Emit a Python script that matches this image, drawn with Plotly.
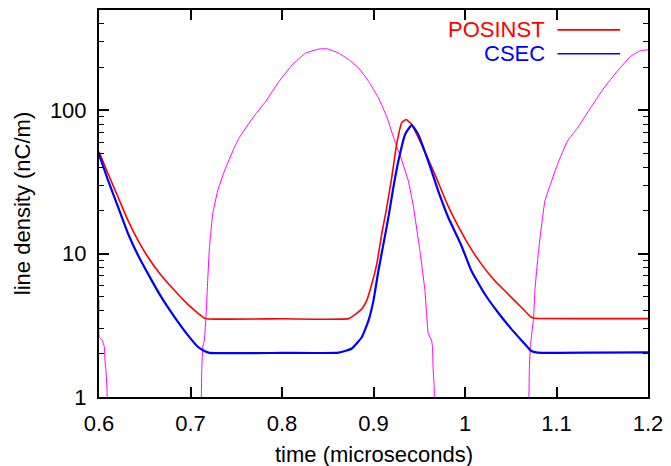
import plotly.graph_objects as go

# ---- data ----
posinst_t = [0.6, 0.6101, 0.621, 0.6319, 0.6428, 0.6536, 0.6681, 0.6826, 0.6971, 0.708,
             0.7152, 0.7188, 0.80, 0.8728, 0.8801, 0.8873, 0.8927, 0.8982, 0.9036, 0.909,
             0.9145, 0.9199, 0.9253, 0.9308, 0.9355, 0.9417, 0.9525, 0.9671, 0.9815, 0.9924,
             1.0033, 1.0177, 1.0323, 1.0467, 1.0612, 1.0721, 1.0764, 1.14, 1.2]
posinst_v = [51.4, 35.8, 24.6, 16.9, 12.3, 9.43, 7.03, 5.53, 4.42, 3.85,
             3.55, 3.50, 3.51, 3.52, 3.77, 4.13, 4.72, 6.16, 8.48, 13.7,
             21.0, 33.9, 57.8, 81.6, 86.1, 79.6, 57.8, 35.7, 21.5, 15.6,
             11.7, 8.48, 6.49, 5.25, 4.24, 3.61, 3.54, 3.52, 3.52]

csec_t = [0.6, 0.6101, 0.621, 0.6319, 0.6428, 0.6536, 0.6681, 0.6826, 0.6971, 0.708,
          0.7152, 0.7207, 0.80, 0.862, 0.8764, 0.8873, 0.8946, 0.9, 0.9054, 0.9109,
          0.9163, 0.9217, 0.9272, 0.9345, 0.9417, 0.9489, 0.9598, 0.9707, 0.9815, 0.996,
          1.0068, 1.0214, 1.0359, 1.0503, 1.0649, 1.0721, 1.0793, 1.14, 1.2]
csec_v = [49.3, 32.1, 21.0, 13.7, 9.69, 7.22, 4.97, 3.61, 2.70, 2.24,
          2.09, 2.03, 2.03, 2.04, 2.18, 2.62, 3.42, 4.72, 7.62, 11.7,
          17.9, 28.9, 44.2, 67.8, 78.7, 67.8, 44.2, 27.4, 18.0, 11.4,
          7.62, 5.25, 3.9, 3.0, 2.36, 2.10, 2.04, 2.04, 2.05]

bunch_t = [0.6, 0.6001, 0.6036, 0.6058, 0.6065, 0.6076, 0.6088, 0.6095, None,
           0.7112, 0.7123, 0.7134, 0.7152, 0.7171, 0.7188, 0.7207, 0.7243, 0.7297, 0.737,
           0.7478, 0.7532, 0.768, 0.7823, 0.7968, 0.8113, 0.8257, 0.8402, 0.8493, 0.862,
           0.873, 0.8837, 0.8946, 0.9054, 0.9145, 0.9236, 0.9308, 0.9381, 0.9435, 0.9507,
           0.9562, 0.9598, 0.9634, 0.9645, 0.9652, 0.9663, 0.9672, None,
           1.0693, 1.0703, 1.0714, 1.0728, 1.075, 1.0764, 1.0786, 1.0812, 1.0848, 1.0873,
           1.0938, 1.1011, 1.112, 1.1228, 1.1373, 1.1518, 1.1663, 1.1808, 1.1917, 1.2]
bunch_v = [4.72, 2.62, 2.49, 2.24, 1.81, 1.54, 1.1, 0.5, None,
           0.5, 1.54, 2.24, 2.49, 3.81, 6.49, 11.0, 18.9, 27.4, 37.6,
           54.7, 64.2, 88.4, 115.5, 159.0, 207.6, 250.0, 267.0, 268.0, 250.0,
           225.0, 197.0, 159.0, 122.0, 90.0, 60.0, 45.0, 32.0, 21.5, 10.5,
           5.53, 2.77, 2.49, 2.24, 1.54, 1.2, 0.5, None,
           0.5, 1.54, 2.24, 2.7, 3.61, 5.53, 8.03, 11.7, 17.9, 23.3,
           31.0, 42.0, 61.0, 75.0, 104.0, 143.0, 186.6, 237.0, 260.0, 264.0]

x_ticks = [0.6, 0.7, 0.8, 0.9, 1.0, 1.1, 1.2]
x_tick_text = ["0.6", "0.7", "0.8", "0.9", "1", "1.1", "1.2"]
y_ticks = [1, 10, 100]
y_tick_text = ["1", "10", "100"]
y_minor = [2, 3, 4, 5, 6, 7, 8, 9, 20, 30, 40, 50, 60, 70, 80, 90, 200, 300, 400, 500]

FONT = "Liberation Sans, Arial, sans-serif"
FS = 22

fig = go.Figure()
fig.add_trace(go.Scatter(x=bunch_t, y=bunch_v, mode="lines", connectgaps=False,
                         line=dict(color="#ff00ff", width=1, shape="spline", smoothing=0.3),
                         showlegend=False))
fig.add_trace(go.Scatter(x=posinst_t, y=posinst_v, mode="lines", name="POSINST",
                         line=dict(color="#ff0000", width=1.6, shape="spline", smoothing=0.4),
                         showlegend=False))
fig.add_trace(go.Scatter(x=csec_t, y=csec_v, mode="lines", name="CSEC",
                         line=dict(color="#0000ff", width=2.2, shape="spline", smoothing=0.4),
                         showlegend=False))

axis_common = dict(showline=True, linecolor="black", linewidth=2, mirror="ticks",
                   ticks="inside", ticklen=10, tickwidth=1.5, tickcolor="black",
                   showgrid=False, zeroline=False,
                   tickfont=dict(family=FONT, size=FS, color="black"))

fig.update_xaxes(range=[0.6, 1.2], tickvals=x_ticks, ticktext=x_tick_text,
                 ticklabelstandoff=6, **axis_common)
fig.update_yaxes(type="log", range=[0, 2.69897], tickvals=y_ticks, ticktext=y_tick_text,
                 minor=dict(tickvals=y_minor, ticks="inside", ticklen=5, tickwidth=1.2,
                            tickcolor="black", showgrid=False),
                 ticklabelstandoff=6, **axis_common)

annotations = [
    dict(text="time (microseconds)", xref="paper", yref="paper", x=0.5, y=-0.149,
         xanchor="center", yanchor="middle", showarrow=False,
         font=dict(family=FONT, size=FS, color="black")),
    dict(text="line density (nC/m)", xref="paper", yref="paper", x=-0.139, y=0.5,
         xanchor="center", yanchor="middle", textangle=-90, showarrow=False,
         font=dict(family=FONT, size=FS, color="black")),
    dict(text="POSINST", xref="paper", yref="paper", x=0.8152, y=0.9486,
         xanchor="right", yanchor="middle", showarrow=False,
         font=dict(family=FONT, size=FS, color="#ff0000")),
    dict(text="CSEC", xref="paper", yref="paper", x=0.8152, y=0.8869,
         xanchor="right", yanchor="middle", showarrow=False,
         font=dict(family=FONT, size=FS, color="#0000ff")),
]
shapes = [
    dict(type="line", xref="paper", yref="paper", x0=0.8351, x1=0.9493, y0=0.9486, y1=0.9486,
         line=dict(color="#ff0000", width=1.6)),
    dict(type="line", xref="paper", yref="paper", x0=0.8351, x1=0.9493, y0=0.8869, y1=0.8869,
         line=dict(color="#0000ff", width=1.6)),
]

fig.update_layout(width=671, height=466, margin=dict(l=99, r=20, t=8, b=69),
                  paper_bgcolor="white", plot_bgcolor="white",
                  annotations=annotations, shapes=shapes, showlegend=False)

fig.write_html("out.html", config={"displayModeBar": False},
               post_script="document.body.style.margin='0';document.body.style.padding='0';")
